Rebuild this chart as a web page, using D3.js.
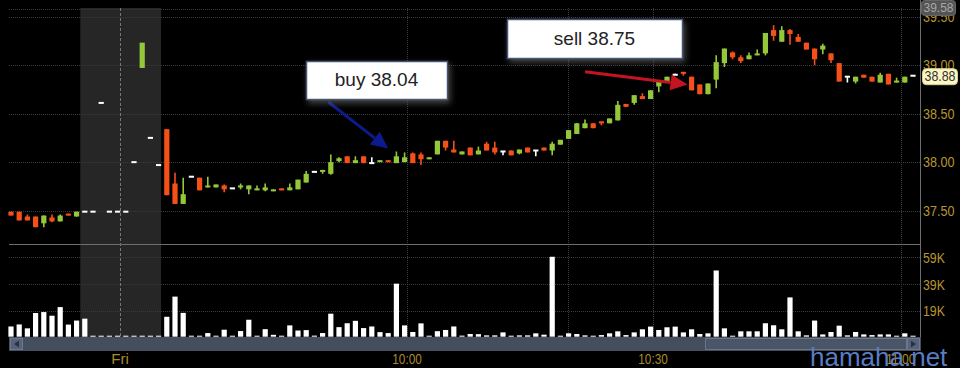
<!DOCTYPE html>
<html>
<head>
<meta charset="utf-8">
<script src="https://cdnjs.cloudflare.com/ajax/libs/d3/7.8.5/d3.min.js"></script>
<style>
  html, body { margin: 0; padding: 0; background: #000; }
  svg { display: block; }
  .lbl { font-family: "Liberation Sans", Arial, sans-serif; }
</style>
</head>
<body>
<div id="chart"></div>
<script>
// 1-minute candles, index 0..110
var opens = [37.49,37.49,37.44,37.44,37.37,37.43,37.39,37.47,37.44,37.49,
  37.49,38.61,37.49,37.49,37.49,38.00,38.97,38.25,37.97,38.34,
  37.78,37.57,37.85,37.84,37.74,37.74,37.76,37.73,37.74,37.72,
  37.71,37.71,37.70,37.73,37.71,37.72,37.79,37.90,37.90,37.88,
  38.01,38.06,37.99,38.06,37.99,38.01,38.02,37.99,38.00,38.09,
  38.08,38.03,38.08,38.22,38.13,38.08,38.15,38.08,38.19,38.15,
  38.11,38.12,38.09,38.15,38.12,38.15,38.12,38.18,38.24,38.29,
  38.35,38.40,38.42,38.40,38.43,38.60,38.61,38.68,38.65,38.78,
  38.83,38.90,38.93,38.88,38.80,38.70,38.85,39.02,39.13,39.08,
  39.06,39.10,39.12,39.36,39.24,39.36,39.29,39.23,39.17,39.16,
  39.12,39.02,38.88,38.83,38.90,38.88,38.82,38.91,38.82,38.82,
  38.89];
var closes = [37.45,37.40,37.40,37.33,37.45,37.39,37.45,37.45,37.49,37.49,
  37.49,38.61,37.49,37.49,37.49,38.00,39.23,38.25,37.97,37.66,
  37.57,37.67,37.85,37.71,37.76,37.77,37.72,37.73,37.76,37.76,
  37.73,37.74,37.72,37.71,37.74,37.82,37.88,37.90,37.92,38.00,
  38.04,37.99,38.02,37.99,37.99,38.02,38.00,38.06,38.05,37.99,
  38.03,38.05,38.22,38.15,38.10,38.11,38.07,38.12,38.12,38.10,
  38.11,38.07,38.13,38.10,38.12,38.12,38.19,38.23,38.33,38.40,
  38.40,38.35,38.40,38.45,38.59,38.57,38.69,38.65,38.74,38.84,
  38.88,38.90,38.91,38.74,38.70,38.81,39.03,39.17,39.08,39.04,
  39.10,39.12,39.33,39.30,39.36,39.32,39.24,39.16,39.06,39.20,
  39.05,38.83,38.88,38.88,38.87,38.83,38.90,38.80,38.84,38.88,
  38.89];
var highs = [37.49,37.49,37.46,37.44,37.45,37.46,37.46,37.47,37.49,37.49,
  37.49,38.61,37.49,37.49,37.49,38.00,39.23,38.25,37.97,38.34,
  37.89,37.84,37.85,37.84,37.85,37.77,37.77,37.73,37.78,37.76,
  37.76,37.78,37.72,37.73,37.78,37.82,37.91,37.90,37.92,38.08,
  38.05,38.06,38.06,38.06,38.05,38.02,38.02,38.11,38.10,38.10,
  38.10,38.05,38.22,38.22,38.22,38.11,38.15,38.16,38.21,38.21,
  38.11,38.12,38.13,38.15,38.12,38.15,38.21,38.23,38.33,38.40,
  38.44,38.40,38.42,38.45,38.63,38.60,38.69,38.71,38.74,38.84,
  38.88,38.91,38.93,38.88,38.80,38.81,39.10,39.17,39.14,39.10,
  39.13,39.16,39.33,39.41,39.40,39.37,39.32,39.23,39.17,39.22,
  39.12,39.02,38.88,38.88,38.90,38.88,38.92,38.91,38.87,38.88,
  38.89];
var lows = [37.45,37.40,37.40,37.33,37.33,37.38,37.39,37.45,37.44,37.49,
  37.49,38.61,37.49,37.49,37.49,38.00,38.97,38.25,37.97,37.66,
  37.57,37.57,37.85,37.71,37.74,37.74,37.69,37.73,37.72,37.67,
  37.71,37.70,37.70,37.71,37.71,37.72,37.79,37.90,37.88,37.87,
  38.00,37.99,37.99,37.99,37.99,38.01,38.00,37.99,38.00,37.99,
  37.97,38.03,38.08,38.12,38.10,38.08,38.07,38.08,38.12,38.08,
  38.07,38.07,38.08,38.10,38.06,38.12,38.07,38.18,38.24,38.29,
  38.35,38.35,38.38,38.40,38.43,38.57,38.59,38.65,38.65,38.72,
  38.83,38.90,38.89,38.74,38.70,38.70,38.76,38.98,39.06,39.02,
  39.06,39.10,39.10,39.25,39.24,39.21,39.24,39.16,39.00,39.11,
  39.02,38.83,38.82,38.81,38.87,38.83,38.82,38.80,38.82,38.82,
  38.89];
// volume in thousands
var volumes = [7.6,9.1,6.2,17.6,18.3,15.6,22,9,12,13.4,
  0.5,0.5,0.5,0.5,0.5,0.5,0.5,0.5,0.5,14.8,
  29.8,17.7,0.7,0.7,2.7,0.7,5.2,0.7,4.2,12.6,
  0.7,5.6,1.4,0.7,8.4,4.6,4.9,0.8,2.7,17.1,
  7.1,10,11.8,6.4,7.6,3.4,2.7,39.4,8.4,3.5,
  9.9,0.6,4.1,5,7.6,0.8,2,1.9,1,1,
  3.2,0.7,1,1,2.5,1.5,59.4,0.7,2.5,2,
  1,0.7,1.2,2.5,4,1.2,3.2,5.5,7.5,5,
  7,7.5,3.2,5.5,2,2.5,49.2,6.2,0.5,4,
  4,4,10,8.5,5.5,29.2,4,1,12,1.7,
  3.5,8.2,1,3.5,1.7,1.2,1.7,1.7,0.7,2.5,
  0.5];

var priceTicks = [37.5, 38.0, 38.5, 39.0, 39.5];
var volTicks = [19, 39, 59];
var timeTicks = [13.3, 48.3, 78.3, 108.5];
var timeLabels = ["Fri", "10:00", "10:30", "11:00"];
var gridIdx = [48.3, 67.9, 78.3, 108.5];
var offHours = [8.45, 18.3];
var dayBreak = 13.3;
var lastPrice = 38.88, topPrice = 39.58;

var notes = [
  {text: "buy 38.04", tipIdx: 46, tipPrice: 38.14, tailIdx: 38.7, tailPrice: 38.62, color: "#0d1a8c"},
  {text: "sell 38.75", tipIdx: 82.5, tipPrice: 38.80, tailIdx: 70, tailPrice: 38.93, color: "#c41422"}
];

var width = 960, height = 368;
var left = 9, right = 920, pTop = 8, pBot = 244, vBot = 337;
var green = "#94c83a", red = "#f5501a";

var svg = d3.select("#chart").append("svg")
  .attr("width", width).attr("height", height);

svg.append("rect").attr("width", width).attr("height", height).attr("fill", "#000");

var x = d3.scaleLinear().domain([0, 110]).range([11, 913]);
var y = d3.scaleLinear().domain([37.5, 39.5]).range([210.7, 16.5]);
var vy = d3.scaleLinear().domain([0, 59]).range([336.7, 257.3]);

// squeeze label text to the narrow look of the original
function narrow(sel, perChar) {
  sel.attr("textLength", function() { return this.textContent.length * perChar; })
    .attr("lengthAdjust", "spacingAndGlyphs");
}

// shaded off-hours block
svg.append("rect")
  .attr("x", x(offHours[0])).attr("y", pTop)
  .attr("width", x(offHours[1]) - x(offHours[0])).attr("height", vBot - pTop)
  .attr("fill", "#262626");

// horizontal grid
svg.selectAll(".hg").data(priceTicks.concat([topPrice])).enter().append("line")
  .attr("x1", left).attr("x2", right)
  .attr("y1", function(d) { return Math.round(y(d)) + 0.5; })
  .attr("y2", function(d) { return Math.round(y(d)) + 0.5; })
  .attr("stroke", "#3a3a3a").attr("stroke-dasharray", "1,1");
svg.selectAll(".vg").data(volTicks).enter().append("line")
  .attr("x1", left).attr("x2", right)
  .attr("y1", function(d) { return Math.round(vy(d)) + 0.5; })
  .attr("y2", function(d) { return Math.round(vy(d)) + 0.5; })
  .attr("stroke", "#3a3a3a").attr("stroke-dasharray", "1,1");

// vertical grid
svg.selectAll(".xg").data(gridIdx).enter().append("line")
  .attr("x1", function(d) { return Math.round(x(d)) + 0.5; })
  .attr("x2", function(d) { return Math.round(x(d)) + 0.5; })
  .attr("y1", pTop).attr("y2", vBot)
  .attr("stroke", "#3a3a3a").attr("stroke-dasharray", "1,1");
svg.append("line")
  .attr("x1", Math.round(x(dayBreak)) + 0.5).attr("x2", Math.round(x(dayBreak)) + 0.5)
  .attr("y1", pTop).attr("y2", vBot)
  .attr("stroke", "#777").attr("stroke-dasharray", "3,2");

// candles
var idx = d3.range(opens.length);
var colorOf = function(i) {
  if (closes[i] > opens[i]) return green;
  if (closes[i] < opens[i]) return red;
  return "#fff";
};
var candles = svg.append("g");
candles.selectAll("line").data(idx).enter().append("line")
  .attr("x1", function(i) { return x(i); })
  .attr("x2", function(i) { return x(i); })
  .attr("y1", function(i) { return y(highs[i]); })
  .attr("y2", function(i) { return y(lows[i]); })
  .attr("stroke", colorOf).attr("stroke-width", 1.6);
candles.selectAll("rect").data(idx).enter().append("rect")
  .attr("x", function(i) { return x(i) - 2.6; })
  .attr("width", 5.2)
  .attr("y", function(i) {
    var t = y(Math.max(opens[i], closes[i]));
    return opens[i] == closes[i] ? t - 1 : t;
  })
  .attr("height", function(i) { return Math.max(2, Math.abs(y(opens[i]) - y(closes[i]))); })
  .attr("fill", colorOf);

// volume bars
svg.append("g").selectAll("rect").data(idx).enter().append("rect")
  .attr("x", function(i) { return x(i) - 2.6; })
  .attr("width", 5.2)
  .attr("y", function(i) { return Math.min(vy(volumes[i]), vy(0) - 1); })
  .attr("height", function(i) { return Math.max(1, vy(0) - vy(volumes[i])); })
  .attr("fill", "#fff");

// panel borders
svg.append("line").attr("x1", left).attr("x2", right).attr("y1", pBot + 0.5).attr("y2", pBot + 0.5)
  .attr("stroke", "#6e6e6e");
svg.append("line").attr("x1", right + 0.5).attr("x2", right + 0.5).attr("y1", 0).attr("y2", vBot)
  .attr("stroke", "#6e6e6e");

// scrollbar
svg.append("rect").attr("x", left).attr("y", vBot).attr("width", right - left + 1).attr("height", 14)
  .attr("fill", "#444e5c");
svg.append("rect").attr("x", left + 1.5).attr("y", vBot + 1.5).attr("width", 12).attr("height", 11)
  .attr("fill", "#56627a").attr("stroke", "#6c7890");
svg.append("path").attr("d", "M" + (left + 5) + "," + (vBot + 7) + "l5,-3.5v7z").attr("fill", "#2a3240");
svg.append("rect").attr("x", 705.5).attr("y", vBot + 1.5).attr("width", 201).attr("height", 11)
  .attr("fill", "#4a5667").attr("stroke", "#6a7688");
svg.append("rect").attr("x", 907.5).attr("y", vBot + 1.5).attr("width", 12).attr("height", 11)
  .attr("fill", "#56627a").attr("stroke", "#6c7890");
svg.append("path").attr("d", "M" + 916 + "," + (vBot + 7) + "l-5,-3.5v7z").attr("fill", "#2a3240");

// price axis
var pAxis = svg.append("g")
  .attr("transform", "translate(" + right + ",0)")
  .call(d3.axisRight(y).tickValues(priceTicks).tickSize(0).tickPadding(3)
    .tickFormat(d3.format(".2f")));
pAxis.select(".domain").remove();
pAxis.selectAll("text").attr("class", "lbl").attr("fill", "#b8962e").style("font-size", "15px")
  .call(narrow, 6.3);

var vAxis = svg.append("g")
  .attr("transform", "translate(" + right + ",0)")
  .call(d3.axisRight(vy).tickValues(volTicks).tickSize(0).tickPadding(3)
    .tickFormat(function(d) { return d + "K"; }));
vAxis.select(".domain").remove();
vAxis.selectAll("text").attr("class", "lbl").attr("fill", "#b8962e").style("font-size", "15px")
  .call(narrow, 7.3);

// top price tag
svg.append("rect").attr("x", 921.5).attr("y", 0.5).attr("width", 34).attr("height", 15).attr("rx", 3)
  .attr("fill", "#555").attr("stroke", "#666");
svg.append("text").attr("class", "lbl").attr("x", 923.5).attr("y", 8.5)
  .attr("dominant-baseline", "middle")
  .style("font-size", "13px").attr("fill", "#a8a8a8").text(topPrice.toFixed(2))
  .call(narrow, 6.0);

// last price tag
svg.append("rect").attr("x", 922.5).attr("y", y(lastPrice) - 8).attr("width", 35).attr("height", 16).attr("rx", 4)
  .attr("fill", "#fbf6c4").attr("stroke", "#d8d090");
svg.append("text").attr("class", "lbl").attr("x", 924.5).attr("y", y(lastPrice) + 0.5)
  .attr("dominant-baseline", "middle")
  .style("font-size", "15px").attr("fill", "#333").text(lastPrice.toFixed(2))
  .call(narrow, 6.2);

// time axis
svg.selectAll(".tl").data(timeTicks).enter().append("text")
  .attr("class", "lbl")
  .attr("x", function(d) { return x(d); })
  .attr("y", 364)
  .attr("text-anchor", "middle")
  .style("font-size", "14px").attr("fill", "#a88a2a")
  .text(function(d, i) { return timeLabels[i]; })
  .call(narrow, 5.9);

// annotations
var defs = svg.append("defs");
var f = defs.append("filter").attr("id", "shadow").attr("x", "-20%").attr("y", "-30%").attr("width", "140%").attr("height", "170%");
f.append("feDropShadow").attr("dx", 2).attr("dy", 3).attr("stdDeviation", 3)
  .attr("flood-color", "#777").attr("flood-opacity", 0.6);

var boxes = [{x: 306, y: 61, w: 141, h: 38}, {x: 507, y: 19, w: 175, h: 39}];
notes.forEach(function(n, k) {
  var b = boxes[k];
  var x1 = x(n.tailIdx), y1 = y(n.tailPrice), x2 = x(n.tipIdx), y2 = y(n.tipPrice);
  var a = Math.atan2(y2 - y1, x2 - x1), len = 17, hw = 8;
  var bx = x2 - len * Math.cos(a), by = y2 - len * Math.sin(a);
  svg.append("line").attr("x1", x1).attr("y1", y1).attr("x2", bx).attr("y2", by)
    .attr("stroke", n.color).attr("stroke-width", 3);
  svg.append("path")
    .attr("d", "M" + x2 + "," + y2 +
      "L" + (bx + hw * Math.sin(a)) + "," + (by - hw * Math.cos(a)) +
      "L" + (bx - hw * Math.sin(a)) + "," + (by + hw * Math.cos(a)) + "Z")
    .attr("fill", n.color);
  svg.append("rect").attr("x", b.x + 0.5).attr("y", b.y + 0.5).attr("width", b.w).attr("height", b.h)
    .attr("fill", "#fff").attr("stroke", "#44577a").attr("stroke-width", 1.5)
    .attr("filter", "url(#shadow)");
  svg.append("text").attr("x", b.x + b.w / 2).attr("y", b.y + b.h / 2 + 1)
    .attr("text-anchor", "middle").attr("dominant-baseline", "middle")
    .style("font-family", "'Liberation Sans', Arial, sans-serif").style("font-size", "19px")
    .attr("fill", "#222").text(n.text);
});

// watermark
svg.append("text").attr("x", 810).attr("y", 366)
  .style("font-family", "'Liberation Sans', Arial, sans-serif").style("font-size", "26px")
  .attr("fill", "#5a7cc0").text("hamaha.net");
</script>
</body>
</html>
